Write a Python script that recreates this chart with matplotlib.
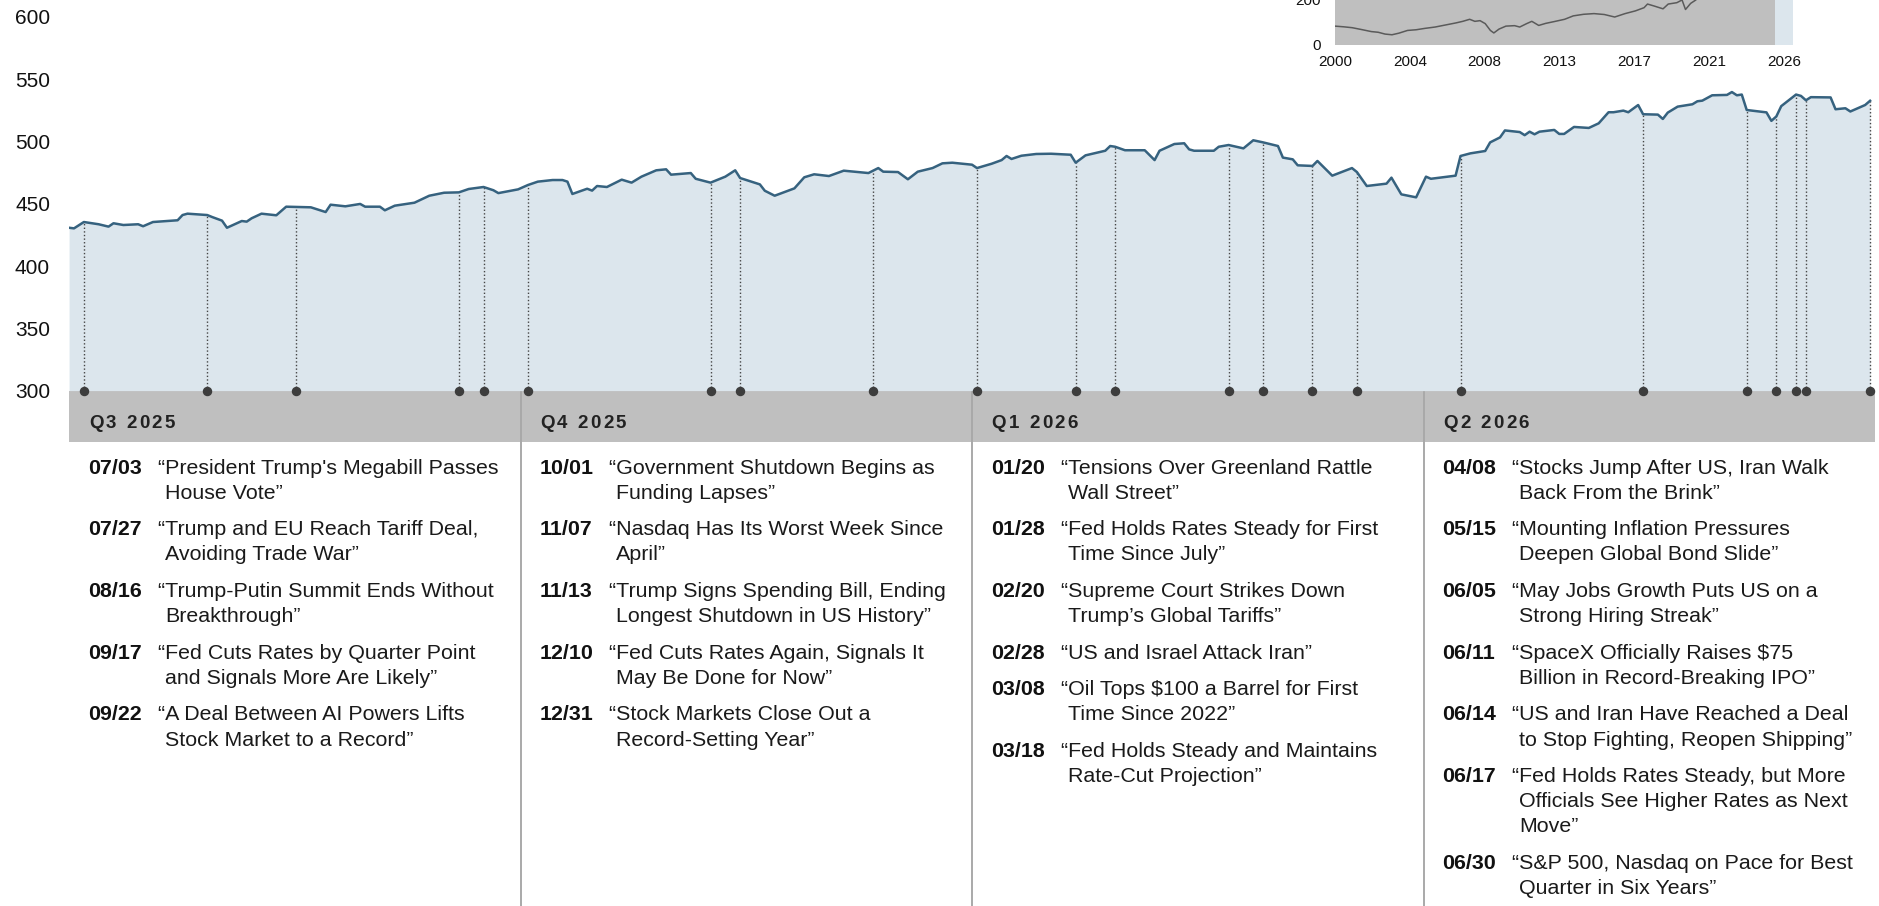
import matplotlib
matplotlib.use("Agg")
import matplotlib.pyplot as plt
import matplotlib.dates as mdates
from matplotlib.patches import Rectangle
from matplotlib.font_manager import FontProperties
import numpy as np
from datetime import datetime

plt.rcParams['font.family'] = ['Liberation Sans', 'DejaVu Sans']

# ---------------- data ----------------
dates = [
    "2025-06-30", "2025-07-01", "2025-07-03", "2025-07-06", "2025-07-08", "2025-07-09", "2025-07-11",
    "2025-07-14", "2025-07-15", "2025-07-17", "2025-07-22", "2025-07-23", "2025-07-24", "2025-07-28",
    "2025-07-29", "2025-07-31", "2025-08-01", "2025-08-04", "2025-08-05", "2025-08-06", "2025-08-08",
    "2025-08-11", "2025-08-13", "2025-08-18", "2025-08-21", "2025-08-22", "2025-08-25", "2025-08-28",
    "2025-08-29", "2025-09-01", "2025-09-02", "2025-09-04", "2025-09-08", "2025-09-11", "2025-09-14",
    "2025-09-17", "2025-09-19", "2025-09-22", "2025-09-24", "2025-09-25", "2025-09-29", "2025-10-01",
    "2025-10-03", "2025-10-06", "2025-10-08", "2025-10-09", "2025-10-10", "2025-10-13", "2025-10-14",
    "2025-10-15", "2025-10-17", "2025-10-20", "2025-10-22", "2025-10-24", "2025-10-27", "2025-10-29",
    "2025-10-30", "2025-11-03", "2025-11-04", "2025-11-07", "2025-11-10", "2025-11-12", "2025-11-13",
    "2025-11-17", "2025-11-18", "2025-11-20", "2025-11-24", "2025-11-26", "2025-11-28", "2025-12-01",
    "2025-12-04", "2025-12-09", "2025-12-11", "2025-12-12", "2025-12-15", "2025-12-17", "2025-12-19",
    "2025-12-22", "2025-12-24", "2025-12-26", "2025-12-30", "2025-12-31", "2026-01-03", "2026-01-05",
    "2026-01-06", "2026-01-07", "2026-01-09", "2026-01-12", "2026-01-15", "2026-01-19", "2026-01-20",
    "2026-01-22", "2026-01-26", "2026-01-27", "2026-01-28", "2026-01-30", "2026-02-03", "2026-02-05",
    "2026-02-06", "2026-02-09", "2026-02-11", "2026-02-12", "2026-02-13", "2026-02-17", "2026-02-18",
    "2026-02-20", "2026-02-23", "2026-02-25", "2026-02-27", "2026-03-02", "2026-03-03", "2026-03-05",
    "2026-03-06", "2026-03-09", "2026-03-10", "2026-03-13", "2026-03-17", "2026-03-18", "2026-03-20",
    "2026-03-24", "2026-03-25", "2026-03-27", "2026-03-30", "2026-04-01", "2026-04-02", "2026-04-07",
    "2026-04-08", "2026-04-10", "2026-04-13", "2026-04-14", "2026-04-16", "2026-04-17", "2026-04-20",
    "2026-04-21", "2026-04-22", "2026-04-23", "2026-04-24", "2026-04-27", "2026-04-28", "2026-04-29",
    "2026-05-01", "2026-05-04", "2026-05-06", "2026-05-08", "2026-05-09", "2026-05-11", "2026-05-12",
    "2026-05-14", "2026-05-15", "2026-05-18", "2026-05-19", "2026-05-20", "2026-05-22", "2026-05-25",
    "2026-05-26", "2026-05-27", "2026-05-29", "2026-06-01", "2026-06-02", "2026-06-03", "2026-06-04",
    "2026-06-05", "2026-06-09", "2026-06-10", "2026-06-11", "2026-06-12", "2026-06-15", "2026-06-16",
    "2026-06-17", "2026-06-18", "2026-06-22", "2026-06-23", "2026-06-25", "2026-06-26", "2026-06-29",
    "2026-06-30",
]
values = [
    430.7, 430.2, 435.3, 433.5, 431.6, 434.3, 432.9,
    433.5, 431.9, 435.3, 436.7, 440.9, 442.0, 440.9,
    439.3, 436.4, 430.7, 436.1, 435.6, 438.3, 442.0,
    440.7, 447.6, 447.1, 443.3, 449.2, 447.9, 449.8,
    447.6, 447.6, 444.7, 448.4, 450.8, 456.4, 458.8,
    459.1, 461.8, 463.4, 460.8, 458.5, 461.5, 465.0,
    467.7, 469.0, 469.0, 467.7, 457.8, 462.0, 460.5,
    464.2, 463.4, 469.3, 466.9, 471.7, 476.8, 477.6,
    473.3, 474.6, 470.0, 466.9, 471.7, 476.8, 470.6,
    465.5, 460.4, 456.4, 462.3, 471.2, 473.6, 472.2,
    476.5, 474.6, 478.6, 475.7, 475.4, 469.6, 475.7,
    478.6, 482.4, 482.9, 481.3, 478.6, 482.1, 485.0,
    488.3, 485.9, 488.5, 489.9, 490.1, 489.3, 482.9,
    488.8, 492.5, 496.3, 495.7, 492.9, 492.9, 485.0,
    492.5, 497.9, 498.5, 493.6, 492.5, 492.5, 495.7,
    497.1, 494.4, 500.9, 499.2, 496.3, 487.0, 485.6,
    480.8, 480.3, 484.3, 472.5, 478.6, 475.4, 464.2,
    466.1, 470.9, 457.5, 455.1, 471.7, 470.0, 472.5,
    488.3, 490.4, 492.3, 499.2, 503.2, 508.8, 507.5,
    505.0, 507.8, 505.7, 507.8, 509.2, 506.0, 506.0,
    511.6, 510.8, 514.5, 523.4, 523.4, 524.7, 523.4,
    529.2, 521.8, 521.5, 518.0, 523.1, 527.9, 529.8,
    532.2, 532.7, 537.0, 537.3, 539.6, 537.0, 537.6,
    525.2, 523.3, 516.5, 520.0, 528.3, 537.6, 536.5,
    533.0, 535.5, 535.3, 525.8, 526.6, 524.0, 529.2,
    532.6,
]

# trading days on which the events are marked
event_marker_dates = [
    "2025-07-03", "2025-07-28", "2025-08-15", "2025-09-17", "2025-09-22",
    "2025-10-01", "2025-11-07", "2025-11-13", "2025-12-10", "2025-12-31",
    "2026-01-20", "2026-01-28", "2026-02-20", "2026-02-27", "2026-03-09", "2026-03-18",
    "2026-04-08", "2026-05-15", "2026-06-05", "2026-06-11", "2026-06-15", "2026-06-17", "2026-06-30",
]

quarters = ["Q3 2025", "Q4 2025", "Q1 2026", "Q2 2026"]

events_q3 = [
    ("07/03", "“President Trump's Megabill Passes\nHouse Vote”"),
    ("07/27", "“Trump and EU Reach Tariff Deal,\nAvoiding Trade War”"),
    ("08/16", "“Trump-Putin Summit Ends Without\nBreakthrough”"),
    ("09/17", "“Fed Cuts Rates by Quarter Point\nand Signals More Are Likely”"),
    ("09/22", "“A Deal Between AI Powers Lifts\nStock Market to a Record”"),
]
events_q4 = [
    ("10/01", "“Government Shutdown Begins as\nFunding Lapses”"),
    ("11/07", "“Nasdaq Has Its Worst Week Since\nApril”"),
    ("11/13", "“Trump Signs Spending Bill, Ending\nLongest Shutdown in US History”"),
    ("12/10", "“Fed Cuts Rates Again, Signals It\nMay Be Done for Now”"),
    ("12/31", "“Stock Markets Close Out a\nRecord-Setting Year”"),
]
events_q1 = [
    ("01/20", "“Tensions Over Greenland Rattle\nWall Street”"),
    ("01/28", "“Fed Holds Rates Steady for First\nTime Since July”"),
    ("02/20", "“Supreme Court Strikes Down\nTrump’s Global Tariffs”"),
    ("02/28", "“US and Israel Attack Iran”"),
    ("03/08", "“Oil Tops $100 a Barrel for First\nTime Since 2022”"),
    ("03/18", "“Fed Holds Steady and Maintains\nRate-Cut Projection”"),
]
events_q2 = [
    ("04/08", "“Stocks Jump After US, Iran Walk\nBack From the Brink”"),
    ("05/15", "“Mounting Inflation Pressures\nDeepen Global Bond Slide”"),
    ("06/05", "“May Jobs Growth Puts US on a\nStrong Hiring Streak”"),
    ("06/11", "“SpaceX Officially Raises $75\nBillion in Record-Breaking IPO”"),
    ("06/14", "“US and Iran Have Reached a Deal\nto Stop Fighting, Reopen Shipping”"),
    ("06/17", "“Fed Holds Rates Steady, but More\nOfficials See Higher Rates as Next\nMove”"),
    ("06/30", "“S&P 500, Nasdaq on Pace for Best\nQuarter in Six Years”"),
]
events_by_quarter = [events_q3, events_q4, events_q1, events_q2]

inset_years = [
    2000.0, 2000.5, 2001.0, 2001.6, 2002.1, 2002.5, 2002.9, 2003.3, 2003.7, 2004.2,
    2004.7, 2005.2, 2005.8, 2006.4, 2007.0, 2007.4, 2007.8, 2008.1, 2008.4, 2008.7,
    2009.0, 2009.2, 2009.5, 2009.9, 2010.4, 2010.7, 2011.1, 2011.4, 2011.8, 2012.2,
    2012.7, 2013.3, 2013.8, 2014.4, 2015.0, 2015.6, 2016.2, 2016.8, 2017.4, 2017.9,
    2018.1, 2018.5, 2019.0, 2019.3, 2019.8, 2020.1, 2020.3, 2020.6, 2020.9, 2021.5,
    2022.0, 2022.7, 2023.5, 2024.5, 2025.3, 2025.5, 2026.0, 2026.5,
]
inset_values = [
    83, 80, 76, 67, 59, 56, 48, 45, 52, 64,
    67, 73, 79, 88, 97, 104, 113, 104, 107, 94,
    64, 53, 70, 83, 85, 79, 94, 104, 86, 95,
    103, 113, 128, 135, 138, 134, 123, 138, 150, 164,
    180, 171, 159, 180, 186, 198, 156, 183, 198, 260,
    300, 250, 300, 380, 400, 430, 480, 533,
]
inset_tick_labels = ["2000", "2004", "2008", "2013", "2017", "2021", "2026"]

# ---------------- styling ----------------
LINE = "#36627f"
FILL = "#dce6ed"
BAND = "#bfbfbf"
DOT = "#3d3d3d"
TXT = "#1a1a1a"

W, H = 1879, 906
fig = plt.figure(figsize=(W / 100, H / 100), dpi=100)


def fx(px):
    return px / W


AX_L, AX_R, AX_B = 69.07, 1875.0, 390.6
PX_PER_UNIT = 62.3 / 50.0

# ---------------- table / headlines (drawn underneath the chart axes) ----------------
TW = AX_R - AX_L
TH = H - AX_B
tab = fig.add_axes([fx(AX_L), 0, fx(TW), TH / H])
tab.set_zorder(1)
tab.set_xlim(0, TW)
tab.set_ylim(TH, 0)
tab.axis("off")
COL = TW / 4.0
BAND_H = 51.4
tab.add_patch(Rectangle((0, 0), TW, BAND_H, facecolor=BAND, edgecolor="none", zorder=1))
tab.vlines([COL, 2 * COL, 3 * COL], 0, TH, colors="#a9a9a9", lw=1.4, zorder=2)

renderer = fig.canvas.get_renderer()
hdr_prop = FontProperties(family="Liberation Sans", weight="bold", size=13.5)
body_prop = FontProperties(family="Liberation Sans", size=15.4)


def text_w(s, prop):
    w, h, dsc = renderer.get_text_width_height_descent(s, prop, ismath=False)
    return w


for k, q in enumerate(quarters):
    x = k * COL + 19.7
    for ch in q:
        tab.text(x, 37.7, ch, fontproperties=hdr_prop, color="#222222",
                 ha="left", va="baseline", zorder=3)
        x += text_w(ch, hdr_prop) + 2.4

LINE_H = 25.2
ENTRY_STEP = 36.5
quote_w = text_w("“", body_prop)
for k, evs in enumerate(events_by_quarter):
    y = 83.0
    x0 = k * COL
    for date_lbl, head in evs:
        tab.text(x0 + 19.0, y, date_lbl, fontproperties=body_prop, fontweight="bold",
                 color="#111111", ha="left", va="baseline")
        lines = head.split("\n")
        for i, ln in enumerate(lines):
            xx = x0 + 88.7 + (0 if i == 0 else quote_w)
            tab.text(xx, y + i * LINE_H, ln, fontproperties=body_prop, color=TXT,
                     ha="left", va="baseline")
        y += (len(lines) - 1) * LINE_H + ENTRY_STEP

# ---------------- main chart ----------------
ax = fig.add_axes([fx(AX_L), 1 - AX_B / H, fx(AX_R - AX_L), AX_B / H])
ax.set_zorder(3)
d = mdates.date2num([datetime.strptime(s, "%Y-%m-%d") for s in dates])
v = np.array(values)
ax.fill_between(d, v, 300, color=FILL, lw=0, zorder=1)
ax.plot(d, v, color=LINE, lw=1.8, zorder=3, solid_joinstyle="round")

md = mdates.date2num([datetime.strptime(s, "%Y-%m-%d") for s in event_marker_dates])
mv = np.interp(md, d, v)
ax.vlines(md, 300, mv, colors="#454545", lw=1.0, linestyles=(0, (1, 1.6)), zorder=2)
ax.plot(md, [300] * len(md), "o", color=DOT, ms=5.8, clip_on=False, zorder=6)

ax.set_xlim(mdates.date2num(datetime(2025, 6, 30)), mdates.date2num(datetime(2026, 7, 1)))
ax.set_ylim(300, 300 + AX_B / PX_PER_UNIT)
ax.set_yticks([300, 350, 400, 450, 500, 550, 600])
ax.set_xticks([])
ax.tick_params(axis="y", length=0, labelsize=15, pad=13.7, labelcolor="#111111")
for s in ax.spines.values():
    s.set_visible(False)
ax.set_facecolor("none")

# ---------------- inset ----------------
IN_L, IN_R, IN_B = 1335.0, 1793.4, 45.0
IN_PX_PER_UNIT = 0.2275
ins_h = 600 * IN_PX_PER_UNIT
ins = fig.add_axes([fx(IN_L), 1 - IN_B / H, fx(IN_R - IN_L), ins_h / H])
ins.set_zorder(4)
ins.set_xlim(2000, 2026.55)
ins.set_ylim(0, 600)
ins.axvspan(2000, 2025.5, color=BAND, lw=0, zorder=0)
ins.axvspan(2025.5, 2026.55, color=FILL, lw=0, zorder=0)
ins.plot(inset_years, inset_values, color="#5a5a5a", lw=1.1, zorder=2)
ins.set_xticks(np.linspace(2000, 2026, len(inset_tick_labels)))
ins.set_xticklabels(inset_tick_labels)
ins.set_yticks([0, 200])
ins.tick_params(length=0, labelsize=11, labelcolor="#111111")
ins.tick_params(axis="y", pad=10.0)
ins.tick_params(axis="x", pad=7.2)
for s in ins.spines.values():
    s.set_visible(False)

fig.savefig("out.png", dpi=100)
